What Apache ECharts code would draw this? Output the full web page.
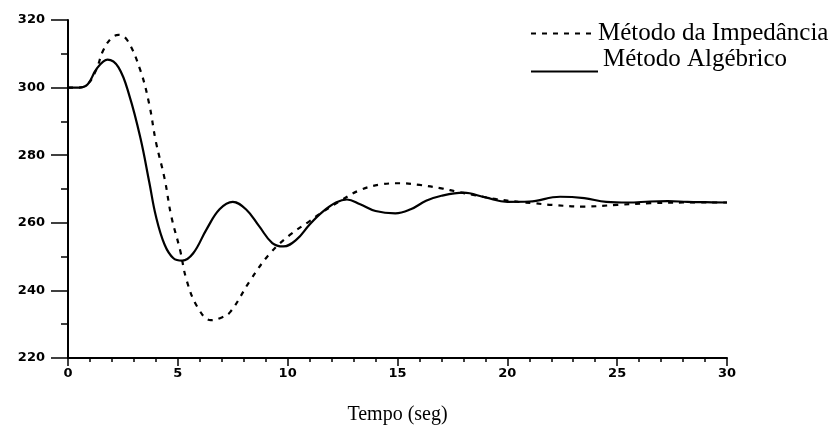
<!DOCTYPE html>
<html>
<head>
<meta charset="utf-8">
<script src="https://cdn.jsdelivr.net/npm/echarts@6/dist/echarts.min.js"></script>
<style>
    html, body { margin: 0; padding: 0; background: #fff; }
    #main { width: 839px; height: 441px; }
</style>
</head>
<body>
<div id="main"></div>
<script>
    // Método Algébrico (solid)
    var algT = [0, 0.5, 0.9, 1.3, 1.8, 2.3, 2.8, 3.3, 3.7, 4.0, 4.4, 4.8, 5.2, 5.7, 6.3, 6.9, 7.5, 8.1, 8.7, 9.3, 9.8, 10.4, 11.0, 11.6, 12.2, 12.7, 13.3, 14.0, 14.9, 15.6, 16.3, 17.0, 18.0, 19.0, 20.0, 21.0, 22.4, 23.5, 24.5, 25.5, 26.5, 27.3, 28.2, 29.0, 30];
    var algV = [300, 300, 301, 305.5, 308.3, 306, 297.5, 285, 272, 262, 253.5, 249.5, 248.8, 251, 258, 264, 266.2, 264, 259, 254, 253, 255, 259.5, 263.3, 266, 266.9, 265.5, 263.5, 262.8, 264, 266.5, 268, 268.9, 267.5, 266.2, 266.3, 267.7, 267.3, 266.2, 266, 266.3, 266.4, 266.2, 266.1, 266];
    // Método da Impedância (dashed)
    var impT = [0, 0.5, 0.9, 1.3, 1.6, 2.0, 2.3, 2.7, 3.3, 3.7, 4.0, 4.4, 4.7, 5.1, 5.4, 5.9, 6.5, 7.0, 7.4, 8.3, 9.2, 10.1, 11.0, 11.5, 12.4, 13.3, 14.2, 15.1, 16.0, 17.0, 17.7, 18.5, 19.5, 20.5, 21.2, 22.0, 23.5, 25.0, 26.5, 28.0, 30];
    var impV = [300, 300, 301, 305.5, 311, 314.8, 315.6, 314, 305, 295, 284, 273, 262, 252, 243, 235, 231.2, 232, 233.7, 243, 251, 256.4, 260.5, 262.8, 266.5, 269.7, 271.3, 271.7, 271.2, 270.2, 269.2, 268.2, 267, 266.2, 265.8, 265.3, 264.8, 265.3, 265.8, 266, 266];

    var yTicks = [220, 240, 260, 280, 300, 320];
    var xTicks = [0, 5, 10, 15, 20, 25, 30];

    function pairs(t, v) {
        var out = [];
        t.forEach(function (x, i) { out.push([x, v[i]]); });
        return out;
    }

    var myChart = echarts.init(document.getElementById('main'));
    var option = {
        animation: false,
        backgroundColor: '#fff',
        grid: { left: 68, right: 112, top: 20, bottom: 83 },
        legend: [
            {
                data: ['Método da Impedância'],
                left: 525, top: 16,
                itemWidth: 60, itemHeight: 14, itemGap: 0,
                itemStyle: { opacity: 0 },
                textStyle: { fontFamily: 'Liberation Serif', fontSize: 25, color: '#000', padding: [0, 0, 0, 2] }
            },
            {
                data: ['Método Algébrico'],
                left: 525, top: 42,
                itemWidth: 67, itemHeight: 14, itemGap: 0,
                itemStyle: { opacity: 0 },
                formatter: '{a|{name}}',
                textStyle: {
                    rich: {
                        a: { fontFamily: 'Liberation Serif', fontSize: 25, color: '#000', padding: [0, 0, 24, 0] }
                    }
                }
            }
        ],
        xAxis: {
            type: 'value',
            min: 0, max: 30, interval: 5,
            name: 'Tempo (seg)',
            nameLocation: 'middle',
            nameGap: 47,
            nameTextStyle: { fontFamily: 'Liberation Serif', fontSize: 20, color: '#000' },
            axisLine: { lineStyle: { color: '#000', width: 2 } },
            axisTick: { show: true, length: 8, lineStyle: { color: '#000', width: 1.5 } },
            minorTick: { show: true, splitNumber: 5, length: 4, lineStyle: { color: '#000', width: 1.5 } },
            splitLine: { show: false },
            axisLabel: {
                margin: 9, fontFamily: 'DejaVu Sans', fontWeight: 'bold', fontSize: 13, color: '#000',
                formatter: function (v) { return xTicks.indexOf(v) >= 0 ? String(v) : ''; }
            }
        },
        yAxis: {
            type: 'value',
            min: 220, max: 320, interval: 20,
            axisLine: { show: true, lineStyle: { color: '#000', width: 2 } },
            axisTick: { show: true, length: 17, lineStyle: { color: '#000', width: 1.5 } },
            minorTick: { show: true, splitNumber: 2, length: 7, lineStyle: { color: '#000', width: 1.5 } },
            splitLine: { show: false },
            axisLabel: {
                margin: 23, fontFamily: 'DejaVu Sans', fontWeight: 'bold', fontSize: 13, color: '#000',
                formatter: function (v) { return yTicks.indexOf(v) >= 0 ? String(v) : ''; }
            }
        },
        series: [
            {
                name: 'Método da Impedância',
                type: 'line',
                smooth: 0.4,
                symbol: 'none',
                lineStyle: { color: '#000', width: 2.2, type: [5, 6] },
                itemStyle: { color: '#000' },
                data: pairs(impT, impV)
            },
            {
                name: 'Método Algébrico',
                type: 'line',
                smooth: 0.4,
                symbol: 'none',
                lineStyle: { color: '#000', width: 2.2 },
                itemStyle: { color: '#000' },
                data: pairs(algT, algV)
            }
        ]
    };
    option && myChart.setOption(option);
</script>
</body>
</html>
